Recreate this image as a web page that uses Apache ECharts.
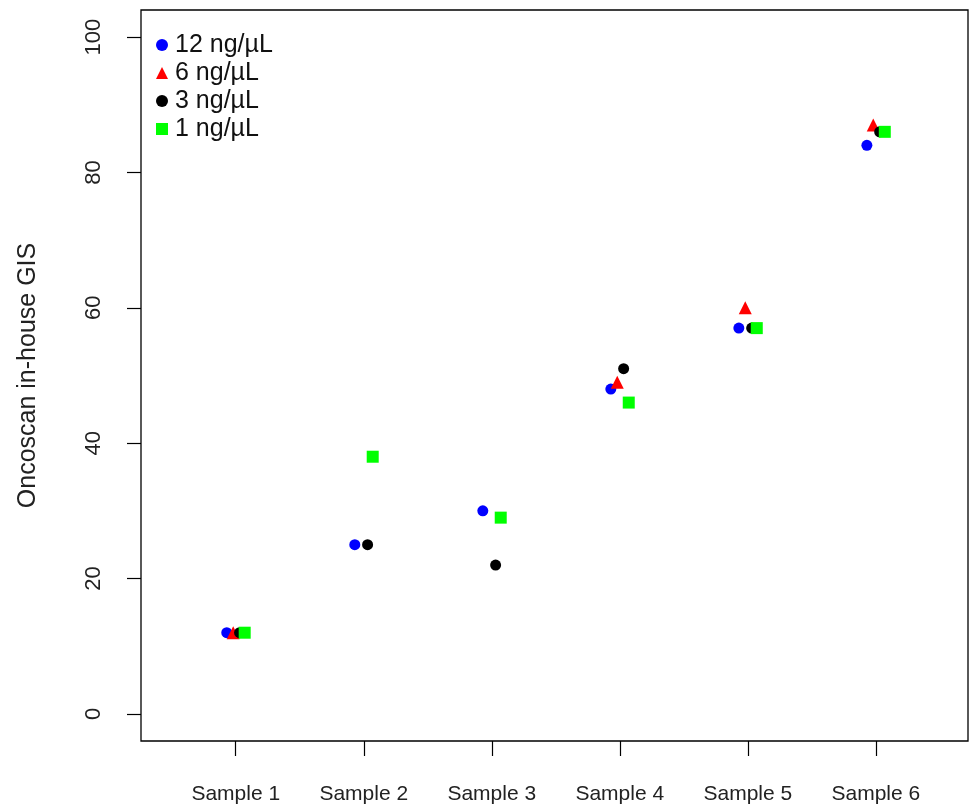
<!DOCTYPE html>
<html>
<head>
<meta charset="utf-8">
<script src="https://cdn.jsdelivr.net/npm/echarts@6/dist/echarts.min.js"></script>
<style>
  html, body { margin: 0; padding: 0; background: #fff; }
  #chart { width: 970px; height: 807px; }
</style>
</head>
<body>
<div id="chart"></div>
<script>
// Sample names along the x axis
const samples = ['Sample 1', 'Sample 2', 'Sample 3', 'Sample 4', 'Sample 5', 'Sample 6'];
// GIS scores per input concentration (null = not measured)
const conc12 = [12, 25, 30, 48, 57, 84];
const conc6  = [12, null, null, 49, 60, 87];
const conc3  = [12, 25, 22, 51, 57, 86];
const conc1  = [12, 38, 29, 46, 57, 86];
// y-axis tick labels
const yTicks = [0, 20, 40, 60, 80, 100];

const FONT = '"Liberation Sans", Arial, sans-serif';

// small horizontal offsets keep the four concentrations side by side
function points(values, shift) {
  const out = [];
  values.forEach((v, i) => { if (v !== null) out.push([i + 1 + shift, v]); });
  return out;
}

const chart = echarts.init(document.getElementById('chart'));
chart.setOption({
  animation: false,
  backgroundColor: '#fff',
  grid: {
    left: 141, right: 2, top: 10, bottom: 66,
    show: true, borderColor: '#000', borderWidth: 1.3, backgroundColor: 'transparent'
  },
  legend: {
    orient: 'vertical', left: 151, top: 26,
    itemWidth: 12, itemHeight: 12, itemGap: 0,
    symbolKeepAspect: true,
    textStyle: { fontFamily: FONT, fontSize: 25, color: '#111', lineHeight: 28, padding: [0, 0, 0, 2] },
    data: ['12 ng/µL', '6 ng/µL', '3 ng/µL', '1 ng/µL']
  },
  xAxis: {
    type: 'value', min: 0.26, max: 6.72,
    axisLine: { show: false, onZero: false },
    splitLine: { show: false },
    axisTick: { show: true, length: 15, customValues: [1, 2, 3, 4, 5, 6], lineStyle: { color: '#000', width: 1.2 } },
    axisLabel: {
      customValues: [1, 2, 3, 4, 5, 6],
      formatter: v => samples[Math.round(v) - 1],
      fontFamily: FONT, fontSize: 21, color: '#222', margin: 43
    }
  },
  yAxis: {
    type: 'value', min: -4, max: 104,
    name: 'Oncoscan in-house GIS', nameLocation: 'middle', nameGap: 100,
    nameTextStyle: { fontFamily: FONT, fontSize: 25, color: '#222' },
    axisLine: { show: false, onZero: false },
    splitLine: { show: false },
    axisTick: { show: true, length: 14, customValues: yTicks, lineStyle: { color: '#000', width: 1.2 } },
    axisLabel: {
      customValues: yTicks, rotate: 90,
      fontFamily: FONT, fontSize: 22, color: '#222', margin: 36
    }
  },
  series: [
    { name: '12 ng/µL', type: 'scatter', symbol: 'circle', symbolSize: 11,
      itemStyle: { color: '#0000ff', opacity: 1 }, data: points(conc12, -0.07) },
    { name: '6 ng/µL', type: 'scatter', symbol: 'triangle', symbolSize: 13,
      itemStyle: { color: '#ff0000', opacity: 1 }, data: points(conc6, -0.02) },
    { name: '3 ng/µL', type: 'scatter', symbol: 'circle', symbolSize: 11,
      itemStyle: { color: '#000000', opacity: 1 }, data: points(conc3, 0.03) },
    { name: '1 ng/µL', type: 'scatter', symbol: 'rect', symbolSize: 12,
      itemStyle: { color: '#00ff00', opacity: 1 }, data: points(conc1, 0.07) }
  ]
});
</script>
</body>
</html>
